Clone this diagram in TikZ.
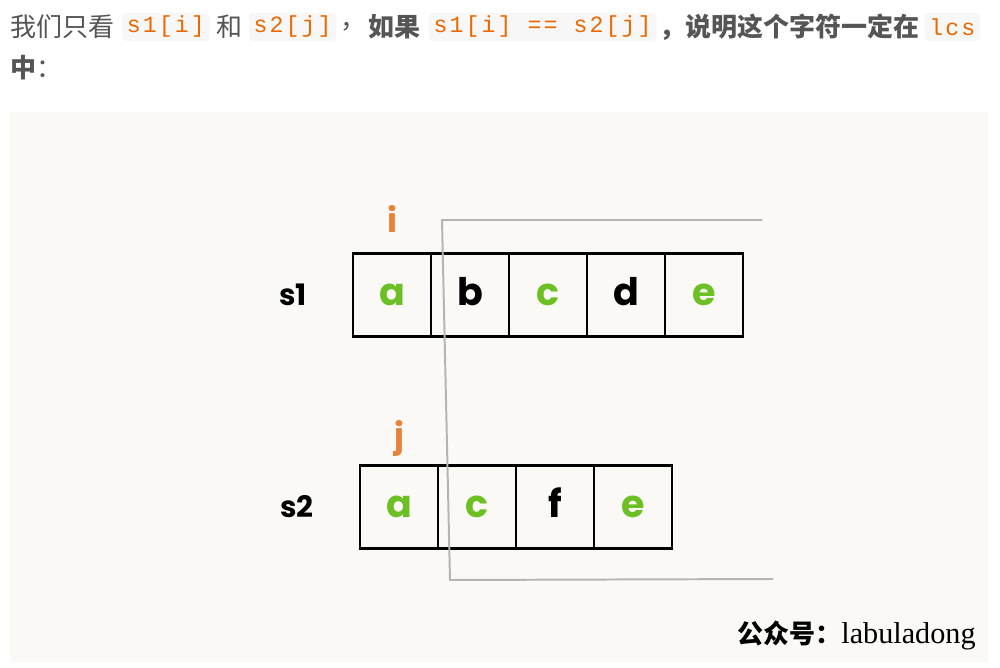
\documentclass[tikz,border=0pt]{standalone}
\usepackage{fontspec}
\setmainfont{Liberation Serif}
\newfontfamily\cjk{Noto Sans CJK SC}
\newfontfamily\codefont{Liberation Mono}[LetterSpace=9]
\newfontfamily\cellfont{Poppins}
\usetikzlibrary{positioning}
\definecolor{txtgray}{HTML}{555555}
\definecolor{codeorange}{HTML}{E96900}
\definecolor{codebg}{HTML}{F7F7F7}
\definecolor{paper}{HTML}{FAF9F6}
\definecolor{hitgreen}{HTML}{6CC024}
\definecolor{idxorange}{HTML}{E8823A}
\definecolor{cutgray}{HTML}{B4B4B4}
\tikzset{
  plain/.style={inner sep=0pt,text=txtgray,font=\cjk\fontsize{18.5}{19}\selectfont},
  strong/.style={plain,font=\cjk\bfseries\fontsize{18.5}{19}\selectfont},
  code/.style={fill=codebg,rounded corners=3pt,inner xsep=0.12cm,inner ysep=0pt,minimum height=0.7cm,text=codeorange,font=\codefont\fontsize{16.5}{17}\selectfont},
  cell/.style={draw,line width=1.6pt,minimum width=1.95cm,minimum height=2.075cm,inner sep=0pt,outer sep=0pt,text height=0.5cm,text depth=0pt,font=\cellfont\bfseries\fontsize{27}{27}\selectfont},
  hit/.style={cell,text=hitgreen},
  miss/.style={cell,text=black},
  strlbl/.style={inner sep=0pt,font=\cellfont\bfseries\fontsize{21}{21}\selectfont},
  idx/.style={inner sep=0pt,text=idxorange,font=\cellfont\bfseries\fontsize{24}{24}\selectfont},
  cutline/.style={draw=cutgray,line width=1.4pt}
}

\begin{document}
\begin{tikzpicture}[x=0.025cm,y=-0.025cm]
  \useasboundingbox[fill=white] (0,0) rectangle (1000,668);

  % caption above the figure
  \node[plain,anchor=west] (t1) at (10,27) {我们只看};
  \node[code,right=0.18cm of t1] (c1) {s1[i]};
  \node[plain,right=0.15cm of c1] (t2) {和};
  \node[code,right=0.15cm of t2] (c2) {s2[j]};
  \node[plain,right=0.1cm of c2] (t3) {，};
  \node[strong,right=0.02cm of t3] (t4) {如果};
  \node[code,right=0.2cm of t4] (c3) {s1[i] == s2[j]};
  \node[strong,right=0.05cm of c3] (t5) {，说明这个字符一定在};
  \node[code,right=0.12cm of t5] (c4) {lcs};
  \node[plain,anchor=west] (t6) at (10,68) {{\bfseries 中}：};

  \fill[paper] (10,112) rectangle (988,662);

  % s1
  \node[hit] (s1a) at (392,295) {a};
  \node[miss,right=0pt of s1a] (s1b) {b};
  \node[hit,right=0pt of s1b] (s1c) {c};
  \node[miss,right=0pt of s1c] (s1d) {d};
  \node[hit,right=0pt of s1d] (s1e) {e};
  \node[strlbl,left=1.15cm of s1a] (s1lbl) {s1};
  \node[idx,above=0.52cm of s1a] (i) {i};

  % s2
  \node[hit] (s2a) at (399,507) {a};
  \node[hit,right=0pt of s2a] (s2c) {c};
  \node[miss,right=0pt of s2c] (s2f) {f};
  \node[hit,right=0pt of s2f] (s2e) {e};
  \node[strlbl,left=1.15cm of s2a] (s2lbl) {s2};
  \node[idx,above=0.22cm of s2a] (j) {j};

  % cut-off bracket
  \coordinate (cuttr) at (762,220);
  \coordinate (cuttl) at (442,220);
  \coordinate (cutbl) at (450,580);
  \coordinate (cutbr) at (773,579);
  \draw[cutline] (cuttr) -- (cuttl) -- (cutbl) -- (cutbr);

  \node[anchor=west,inner sep=0pt] (mark) at (737,635)
    {{\cjk\bfseries\fontsize{18.5}{20}\selectfont 公众号：}{\fontsize{21.5}{22}\selectfont labuladong}};
\end{tikzpicture}
\end{document}
